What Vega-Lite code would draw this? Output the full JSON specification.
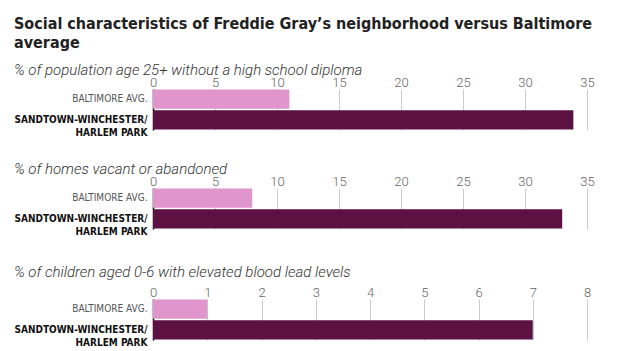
{
  "$schema": "https://vega.github.io/schema/vega-lite/v6.json",
  "padding": {"left": 13, "top": 16, "right": 5, "bottom": 3},
  "background": "white",
  "title": {
    "text": ["Social characteristics of Freddie Gray’s neighborhood versus Baltimore", "average"],
    "anchor": "start",
    "frame": "bounds",
    "font": "DejaVu Sans Condensed",
    "fontSize": 16,
    "fontStyle": "normal",
    "fontWeight": "bold",
    "color": "#222222",
    "lineHeight": 19,
    "offset": 12
  },
  "datasets": {
    "stats": [
      {"panel": "diploma", "group": "BALTIMORE AVG.", "value": 11},
      {"panel": "diploma", "group": "SANDTOWN", "value": 33.9},
      {"panel": "vacant", "group": "BALTIMORE AVG.", "value": 8},
      {"panel": "vacant", "group": "SANDTOWN", "value": 33},
      {"panel": "lead", "group": "BALTIMORE AVG.", "value": 1},
      {"panel": "lead", "group": "SANDTOWN", "value": 7}
    ]
  },
  "config": {
    "view": {"stroke": null},
    "title": {
      "anchor": "start",
      "frame": "bounds",
      "font": "Roboto",
      "fontStyle": "italic",
      "fontWeight": 300,
      "fontSize": 15,
      "color": "#333333",
      "offset": -2
    },
    "axisX": {
      "orient": "top",
      "domain": false,
      "ticks": false,
      "grid": true,
      "gridColor": "#999999",
      "gridOpacity": 0.5,
      "gridWidth": 1,
      "zindex": 1,
      "labelFont": "Roboto",
      "labelFontWeight": 300,
      "labelFontSize": 13,
      "labelColor": "#666666",
      "labelPadding": 0,
      "title": null,
      "labelFlush": false
    },
    "axisY": {
      "domain": true,
      "domainColor": "#000000",
      "domainWidth": 1.5,
      "ticks": false,
      "grid": false,
      "zindex": 1,
      "title": null,
      "labelFont": "DejaVu Sans Condensed",
      "labelFontSize": 10,
      "labelPadding": 6,
      "labelLineHeight": 13,
      "labelExpr": "datum.value == 'SANDTOWN' ? ['SANDTOWN-WINCHESTER/', 'HARLEM PARK'] : datum.value",
      "labelFontWeight": {"condition": {"test": "datum.value == 'SANDTOWN'", "value": "bold"}, "value": "normal"},
      "labelColor": {"condition": {"test": "datum.value == 'SANDTOWN'", "value": "#111111"}, "value": "#555555"}
    }
  },
  "spacing": 28,
  "vconcat": [
    {
      "spacing": 24,
      "vconcat": [
        {
          "title": "% of population age 25+ without a high school diploma",
          "data": {"name": "stats"},
          "transform": [{"filter": "datum.panel == 'diploma'"}],
          "width": 434,
          "height": 41,
          "mark": {"type": "bar"},
          "encoding": {
            "y": {"field": "group", "type": "nominal", "sort": ["BALTIMORE AVG.", "SANDTOWN"], "scale": {"paddingInner": 0.08, "paddingOuter": 0.02}},
            "x": {"field": "value", "type": "quantitative", "scale": {"domain": [0, 35], "nice": false}, "axis": {"values": [0, 5, 10, 15, 20, 25, 30, 35]}},
            "color": {"field": "group", "type": "nominal", "scale": {"domain": ["BALTIMORE AVG.", "SANDTOWN"], "range": ["#e095cc", "#5c1142"]}, "legend": null}
          }
        },
        {
          "title": "% of homes vacant or abandoned",
          "data": {"name": "stats"},
          "transform": [{"filter": "datum.panel == 'vacant'"}],
          "width": 434,
          "height": 41,
          "mark": {"type": "bar"},
          "encoding": {
            "y": {"field": "group", "type": "nominal", "sort": ["BALTIMORE AVG.", "SANDTOWN"], "scale": {"paddingInner": 0.08, "paddingOuter": 0.02}},
            "x": {"field": "value", "type": "quantitative", "scale": {"domain": [0, 35], "nice": false}, "axis": {"values": [0, 5, 10, 15, 20, 25, 30, 35]}},
            "color": {"field": "group", "type": "nominal", "scale": {"domain": ["BALTIMORE AVG.", "SANDTOWN"], "range": ["#e095cc", "#5c1142"]}, "legend": null}
          }
        }
      ]
    },
    {
      "title": {"text": "% of children aged 0-6 with elevated blood lead levels", "offset": 6},
      "data": {"name": "stats"},
      "transform": [{"filter": "datum.panel == 'lead'"}],
      "width": 434,
      "height": 41,
      "mark": {"type": "bar"},
      "encoding": {
        "y": {"field": "group", "type": "nominal", "sort": ["BALTIMORE AVG.", "SANDTOWN"], "scale": {"paddingInner": 0.08, "paddingOuter": 0.02}},
        "x": {"field": "value", "type": "quantitative", "scale": {"domain": [0, 8], "nice": false}, "axis": {"values": [0, 1, 2, 3, 4, 5, 6, 7, 8]}},
        "color": {"field": "group", "type": "nominal", "scale": {"domain": ["BALTIMORE AVG.", "SANDTOWN"], "range": ["#e095cc", "#5c1142"]}, "legend": null}
      }
    }
  ]
}
